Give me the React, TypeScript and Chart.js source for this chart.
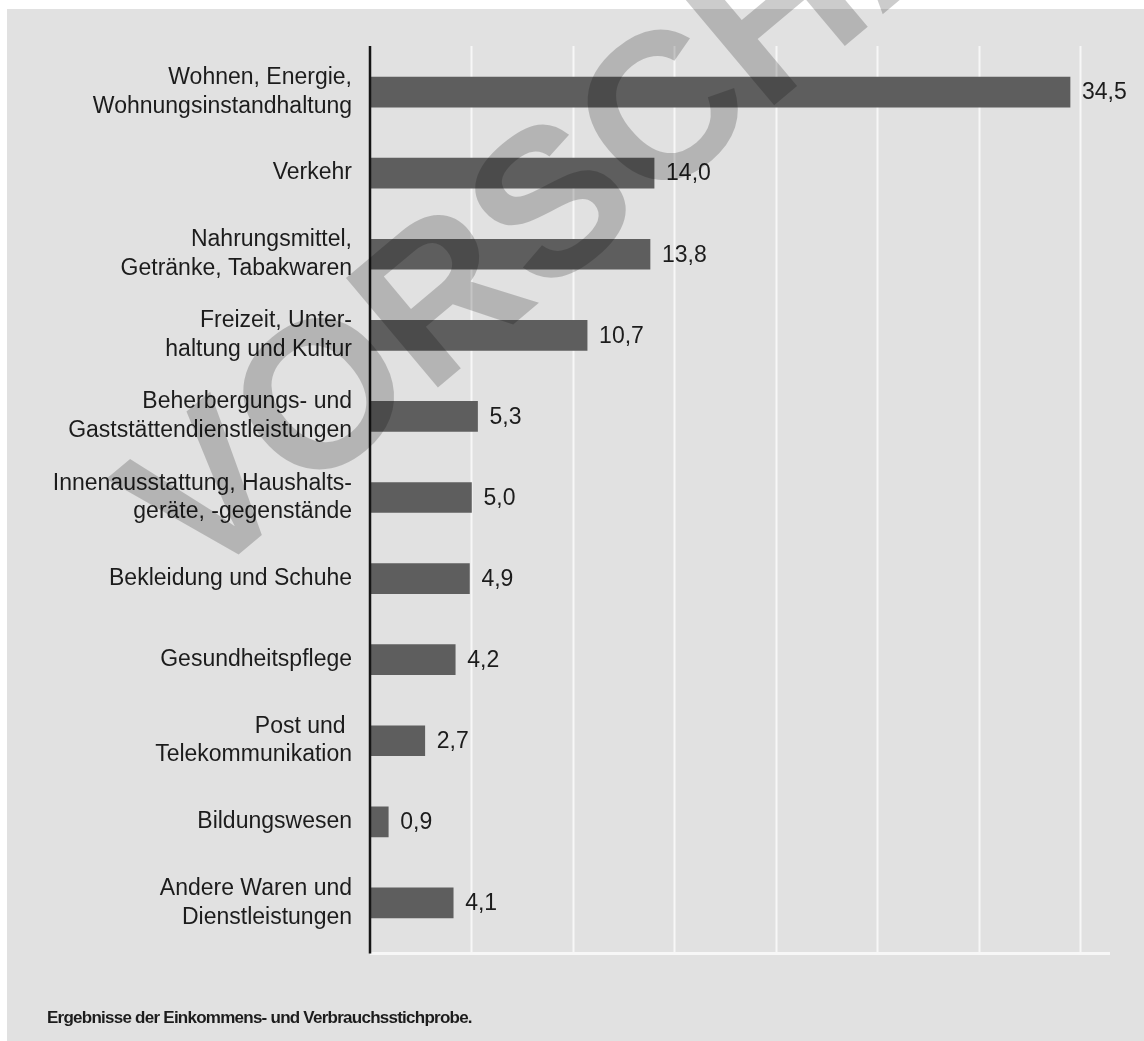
import React, { useEffect, useRef } from "react";
import { Chart, registerables } from "chart.js";

Chart.register(...registerables);

const categories: (string | string[])[] = [
  ["Wohnen, Energie,", "Wohnungsinstandhaltung"],
  "Verkehr",
  ["Nahrungsmittel,", "Getränke, Tabakwaren"],
  ["Freizeit, Unter-", "haltung und Kultur"],
  ["Beherbergungs- und", "Gaststättendienstleistungen"],
  ["Innenausstattung, Haushalts-", "geräte, -gegenstände"],
  "Bekleidung und Schuhe",
  "Gesundheitspflege",
  ["Post und ", "Telekommunikation"],
  "Bildungswesen",
  ["Andere Waren und", "Dienstleistungen"],
];

const shares: number[] = [34.5, 14.0, 13.8, 10.7, 5.3, 5.0, 4.9, 4.2, 2.7, 0.9, 4.1];

const gridValues: number[] = [5, 10, 15, 20, 25, 30, 35];

const footnote = "Ergebnisse der Einkommens- und Verbrauchsstichprobe.";
const watermark = "VORSCHAU";

const FONT = "'Liberation Sans', Arial, Helvetica, sans-serif";
const TEXT = "#1c1c1c";
const BG = "#e1e1e1";

const customPlugin = {
  id: "customDraw",
  beforeDraw(chart: any) {
    const { ctx, width, height } = chart;
    ctx.save();
    ctx.fillStyle = "#ffffff";
    ctx.fillRect(0, 0, width, height);
    ctx.fillStyle = BG;
    ctx.fillRect(7, 9, width - 7, height - 9);
    ctx.restore();
  },
  beforeDatasetsDraw(chart: any) {
    const { ctx, chartArea } = chart;
    const x = chart.scales.x;
    const top = chartArea.top - 5.5;
    const bottom = chartArea.bottom + 10;
    ctx.save();
    ctx.strokeStyle = "#f7f7f7";
    ctx.lineWidth = 2;
    gridValues.forEach((v) => {
      const px = Math.round(x.getPixelForValue(v)) + 0.5;
      ctx.beginPath();
      ctx.moveTo(px, top);
      ctx.lineTo(px, bottom);
      ctx.stroke();
    });
    ctx.lineWidth = 3;
    ctx.beginPath();
    ctx.moveTo(chartArea.left, bottom);
    ctx.lineTo(chartArea.right, bottom);
    ctx.stroke();
    ctx.restore();
  },
  afterDatasetsDraw(chart: any) {
    const { ctx, chartArea } = chart;
    const x = chart.scales.x;
    ctx.save();
    ctx.fillStyle = TEXT;
    ctx.font = `23px ${FONT}`;
    ctx.textAlign = "left";
    ctx.textBaseline = "middle";
    const meta = chart.getDatasetMeta(0);
    meta.data.forEach((bar: any, i: number) => {
      const label = shares[i].toFixed(1).replace(".", ",");
      ctx.fillText(label, bar.x + 12, bar.y + 1);
    });
    const x0 = x.getPixelForValue(0);
    ctx.strokeStyle = "#151515";
    ctx.lineWidth = 2.5;
    ctx.beginPath();
    ctx.moveTo(x0, chartArea.top - 5.5);
    ctx.lineTo(x0, chartArea.bottom + 10);
    ctx.stroke();
    ctx.restore();
  },
  afterDraw(chart: any) {
    const { ctx } = chart;
    ctx.save();
    ctx.fillStyle = TEXT;
    ctx.font = `bold 17px ${FONT}`;
    try {
      (ctx as any).letterSpacing = "-0.75px";
    } catch (e) {}
    ctx.textAlign = "left";
    ctx.textBaseline = "alphabetic";
    ctx.fillText(footnote, 47, 1023);
    try {
      (ctx as any).letterSpacing = "0px";
    } catch (e) {}
    ctx.restore();

    const size = 208;
    ctx.save();
    ctx.translate(605, 150);
    ctx.rotate((-40 * Math.PI) / 180);
    ctx.fillStyle = "rgba(0,0,0,0.2)";
    ctx.font = `bold ${size}px ${FONT}`;
    ctx.textAlign = "center";
    ctx.textBaseline = "alphabetic";
    ctx.fillText(watermark, 0, 0.716 * size * 0.5);
    ctx.restore();
  },
};

export default function App() {
  const canvasRef = useRef<HTMLCanvasElement | null>(null);

  useEffect(() => {
    if (!canvasRef.current) return;
    const chart = new Chart(canvasRef.current, {
      type: "bar",
      data: {
        labels: categories,
        datasets: [
          {
            data: shares,
            backgroundColor: "#5e5e5e",
            borderWidth: 0,
            barThickness: 30,
          },
        ],
      },
      options: {
        indexAxis: "y",
        responsive: false,
        animation: false,
        devicePixelRatio: 1,
        layout: {
          padding: { left: 0, right: 34, top: 51.5, bottom: 97.5 },
        },
        plugins: {
          legend: { display: false },
          tooltip: { enabled: false },
        },
        scales: {
          x: {
            display: false,
            min: 0,
            max: 36.47,
          },
          y: {
            display: true,
            grid: { display: false, drawTicks: false },
            border: { display: false },
            ticks: {
              padding: 18,
              color: TEXT,
              font: { family: FONT, size: 23, lineHeight: 1.24 },
              autoSkip: false,
            },
            afterFit(scale: any) {
              scale.width = 370;
            },
          },
        },
      },
      plugins: [customPlugin],
    } as any);
    return () => chart.destroy();
  }, []);

  return (
    <div style={{ position: "absolute", left: 0, top: 0, width: 1144, height: 1041, overflow: "hidden" }}>
      <canvas ref={canvasRef} width={1144} height={1041} style={{ display: "block" }} />
    </div>
  );
}
